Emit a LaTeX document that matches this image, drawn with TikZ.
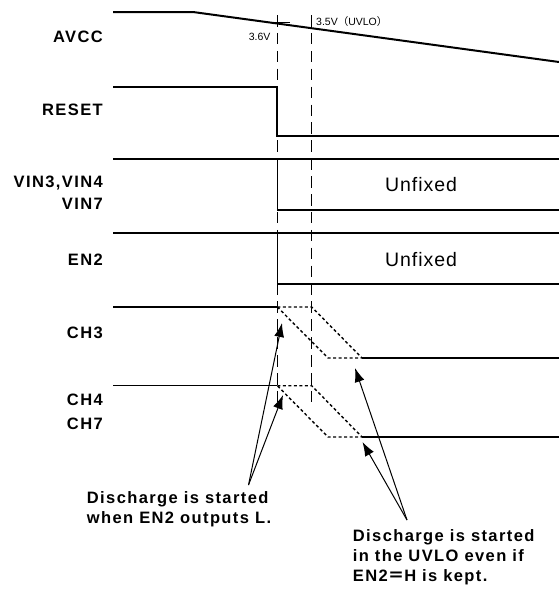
\documentclass[tikz,border=0pt]{standalone}
\usepackage{fontspec}
\setmainfont{Liberation Sans}
\newfontfamily\labfont[LetterSpace=8.5]{Liberation Sans}
\newfontfamily\unffont[LetterSpace=5]{Liberation Sans}
\newfontfamily\cjkfont{Noto Sans CJK JP}
\usetikzlibrary{arrows.meta}
\begin{document}
\begin{tikzpicture}[x=1pt,y=-1pt,
  lbl/.style={font=\labfont\bfseries\fontsize{16.5}{20}\selectfont, inner sep=0pt, text height=11.8pt, text depth=0pt},
  sig/.style={anchor=east, lbl},
  note/.style={anchor=west, lbl},
  unf/.style={font=\unffont\fontsize{19.5}{22}\selectfont, inner sep=0pt, text height=14pt, text depth=0pt},
  volt/.style={font=\fontsize{10.5}{12}\selectfont, inner sep=0pt, text height=7.6pt, text depth=0pt},
  thick2/.style={line width=2pt},
  wave/.style={line width=1.2pt},
  guide/.style={line width=1pt, dash pattern=on 11.5pt off 6.4pt},
  dis/.style={line width=1.4pt, dash pattern=on 3pt off 2.5pt},
  arr/.style={line width=1pt, -{Latex[length=14pt,width=10pt]}},
  line join=miter]
\useasboundingbox (0,0) rectangle (559,595);

% guide lines
\coordinate (g1t) at (277.3,15);
\coordinate (g1b) at (277.3,405);
\coordinate (g2t) at (311.7,15);
\coordinate (g2b) at (311.7,405);
\draw[guide] (g1t) -- (g1b);
\draw[guide] (g2t) -- (g2b);

% AVCC
\coordinate (a0) at (113,12);
\coordinate (a1) at (193,12);
\coordinate (a2) at (559,62);
\draw[thick2] (a0) -- (a1) -- (a2);
\coordinate (t0) at (273,22.4);
\coordinate (t1) at (290,22.4);
\draw[line width=1pt] (t0) -- (t1);
\node[volt, anchor=east] (v36) at (270.7,37) {3.6V};
\node[volt, anchor=west] (v35) at (316,22) {3.5V{\cjkfont（}UVLO{\cjkfont）}};

% RESET
\coordinate (r0) at (113,87);
\coordinate (r1) at (277.3,87);
\coordinate (r2) at (277.3,136);
\coordinate (r3) at (559,136);
\draw[thick2] (r0) -- (r1) -- (r2) -- (r3);

% VIN
\coordinate (vi0) at (113,159);
\coordinate (vi1) at (559,159);
\coordinate (vi2) at (277.3,159);
\coordinate (vi3) at (277.3,210);
\coordinate (vi4) at (559,210);
\draw[line width=1.5pt] (vi0) -- (vi1);
\draw[wave] (vi2) -- (vi3) -- (vi4);
\node[unf] (u1) at (421,184) {Unfixed};

% EN2
\coordinate (e0) at (113,233);
\coordinate (e1) at (559,233);
\coordinate (e2) at (277.3,233);
\coordinate (e3) at (277.3,284);
\coordinate (e4) at (559,284);
\draw[wave] (e0) -- (e1);
\draw[wave] (e2) -- (e3) -- (e4);
\node[unf] (u2) at (421,259) {Unfixed};

% CH3
\coordinate (c0) at (113,307);
\coordinate (c1) at (277.3,307);
\coordinate (c2) at (311.7,307);
\coordinate (c3) at (328,358);
\coordinate (c4) at (362,358);
\coordinate (c5) at (559,358);
\draw[line width=1.6pt] (c0) -- (c1);
\draw[dis] (c1) -- (c2) -- (c4) -- (c3) -- cycle;
\draw[line width=1.8pt] (c4) -- (c5);

% CH4
\coordinate (d0) at (113,385.7);
\coordinate (d1) at (277.3,385.7);
\coordinate (d2) at (311.7,385.7);
\coordinate (d3) at (328,437);
\coordinate (d4) at (362,437);
\coordinate (d5) at (559,437);
\draw[wave] (d0) -- (d1);
\draw[dis] (d1) -- (d2) -- (d4) -- (d3) -- cycle;
\draw[wave] (d4) -- (d5);

% labels
\node[sig] (lavcc) at (103,36.5) {AVCC};
\node[sig] (lreset) at (103,110) {RESET};
\node[sig] (lvin1) at (103,181.5) {VIN3,VIN4};
\node[sig] (lvin2) at (103,203.3) {VIN7};
\node[sig] (len2) at (103,260) {EN2};
\node[sig] (lch3) at (103,333) {CH3};
\node[sig] (lch4) at (103,399.3) {CH4};
\node[sig] (lch7) at (103,424) {CH7};

% notes
\node[note] (n1a) at (86.7,497.5) {Discharge is started};
\node[note] (n1b) at (86.7,517.5) {when EN2 outputs L.};
\node[note] (n2a) at (352.7,535.2) {Discharge is started};
\node[note] (n2b) at (352.7,555.2) {in the UVLO even if};
\node[note] (n2c) at (352.7,575.2) {EN2{\cjkfont\bfseries ＝}H is kept.};

% arrows
\coordinate (s1) at (248.5,485);
\coordinate (p1) at (282,323);
\coordinate (p2) at (283,395);
\coordinate (s2) at (407,520);
\coordinate (p3) at (355,368);
\coordinate (p4) at (362.5,442);
\draw[arr] (s1) -- (p1);
\draw[arr] (s1) -- (p2);
\draw[arr] (s2) -- (p3);
\draw[arr] (s2) -- (p4);
\end{tikzpicture}
\end{document}
